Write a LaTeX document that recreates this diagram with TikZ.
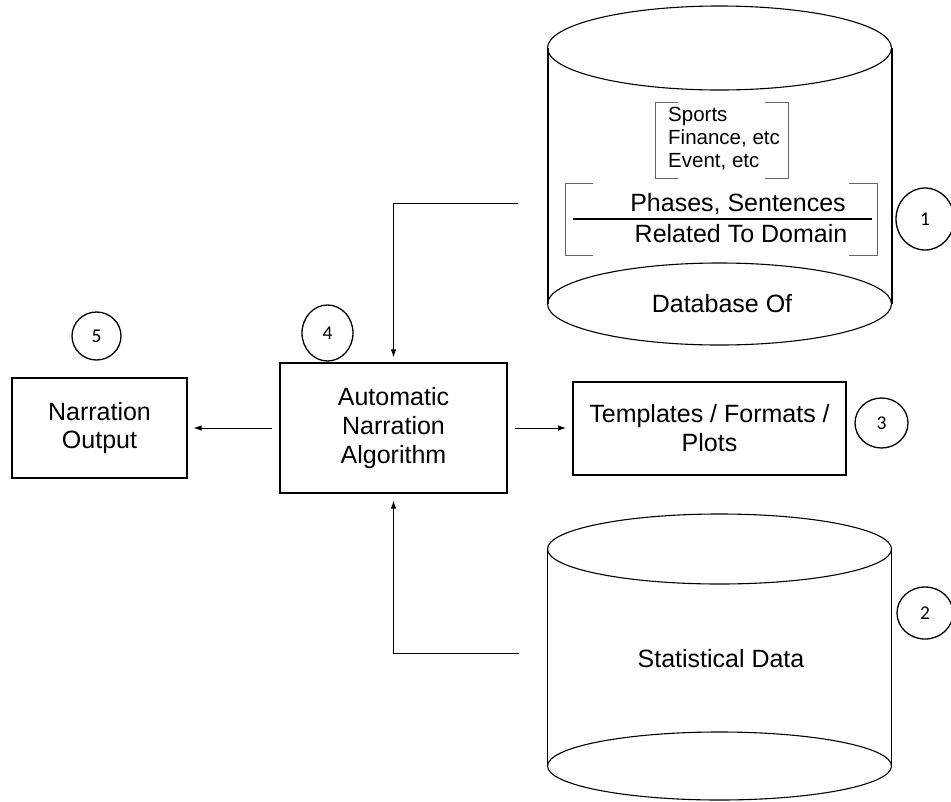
\documentclass[tikz,border=0pt]{standalone}
\usepackage{fontspec}
\setmainfont{Liberation Sans}
\newfontfamily\numfont{Carlito}
\usepackage{tikz}
\usetikzlibrary{arrows,arrows.meta,positioning,calc,shapes.geometric}

\tikzset{
	box/.style={draw, line width=1.2pt, inner sep=0pt, align=center, font=\fontsize{25}{28.7}\selectfont},
	num/.style={draw, ellipse, line width=1.3pt, inner sep=0pt, font=\numfont\fontsize{19.5}{22}\selectfont},
	lbl/.style={inner sep=0pt, font=\fontsize{25}{28.7}\selectfont},
	arr/.style={->, >={Latex[length=8pt, width=5.5pt]}, line width=0.9pt},
	brk/.style={draw=black!60, line width=0.8pt}
}

\begin{document}
\begin{tikzpicture}[x=1pt, y=1pt]
	\useasboundingbox (0,0) rectangle (951,-801);

	% database of domain phrases
	\draw[line width=2pt] (547.5,-48) -- (547.5,-304) (891.5,-48) -- (891.5,-304);
	\draw[line width=1.1pt] (719.5,-48) ellipse [x radius=172pt, y radius=42pt];
	\draw[line width=1.1pt] (719.5,-304) ellipse [x radius=172pt, y radius=41pt];
	\draw[brk] (678,-102) -| (655,-178) -- (678,-178);
	\draw[brk] (765,-102) -| (788,-178) -- (765,-178);
	\draw[brk] (593,-183) -| (565,-255) -- (593,-255);
	\draw[brk] (849,-183) -| (877,-255) -- (849,-255);
	\draw[line width=1.5pt] (573,-219) -- (872,-219);
	\node[inner sep=0pt, anchor=west, align=left, font=\fontsize{20.5}{23}\selectfont] (K) at (668,-139) {Sports\\Finance, etc\\Event, etc};
	\node[lbl, anchor=base] (P) at (738,-211) {Phases, Sentences};
	\node[lbl, anchor=base] (R) at (741,-242) {Related To Domain};
	\node[lbl, anchor=base] (D) at (722,-312) {Database Of};

	% statistical data
	\draw[line width=1.5pt] (547.5,-549) -- (547.5,-766) (891.5,-549) -- (891.5,-766);
	\draw[line width=1.1pt] (719.5,-549) ellipse [x radius=172pt, y radius=35pt];
	\draw[line width=1.1pt] (719.5,-766) ellipse [x radius=172pt, y radius=34pt];
	\node[lbl, anchor=base] (S) at (721,-667) {Statistical Data};

	\node[box, minimum width=175, minimum height=100] (N) at (99.5,-428) {Narration\\Output};
	\node[box, minimum width=227, minimum height=130] (A) at (393.5,-428) {Automatic\\Narration\\Algorithm};
	\node[box, line width=2pt, minimum width=273, minimum height=93] (T) at (709.5,-428) {Templates / Formats /\\Plots};

	\node[num, minimum width=58, minimum height=62] (C1) at (925,-219) {1};
	\node[num, minimum width=56, minimum height=52] (C2) at (925,-613) {2};
	\node[num, minimum width=53, minimum height=50] (C3) at (881.5,-423) {3};
	\node[num, minimum width=51, minimum height=56] (C4) at (327.5,-333) {4};
	\node[num, minimum width=49, minimum height=48] (C5) at (96.5,-336) {5};

	\coordinate (d) at (518,-203);
	\coordinate (s) at (519,-653);

	\draw[arr, shorten >=5pt] (d) -| (A.north);
	\draw[arr, shorten >=7pt] (s) -| (A.south);
	\path[arr, shorten <=7pt, shorten >=6pt] (A) edge (N);
	\path[arr, shorten <=7pt, shorten >=6pt] (A) edge (T);

\end{tikzpicture}
\end{document}
